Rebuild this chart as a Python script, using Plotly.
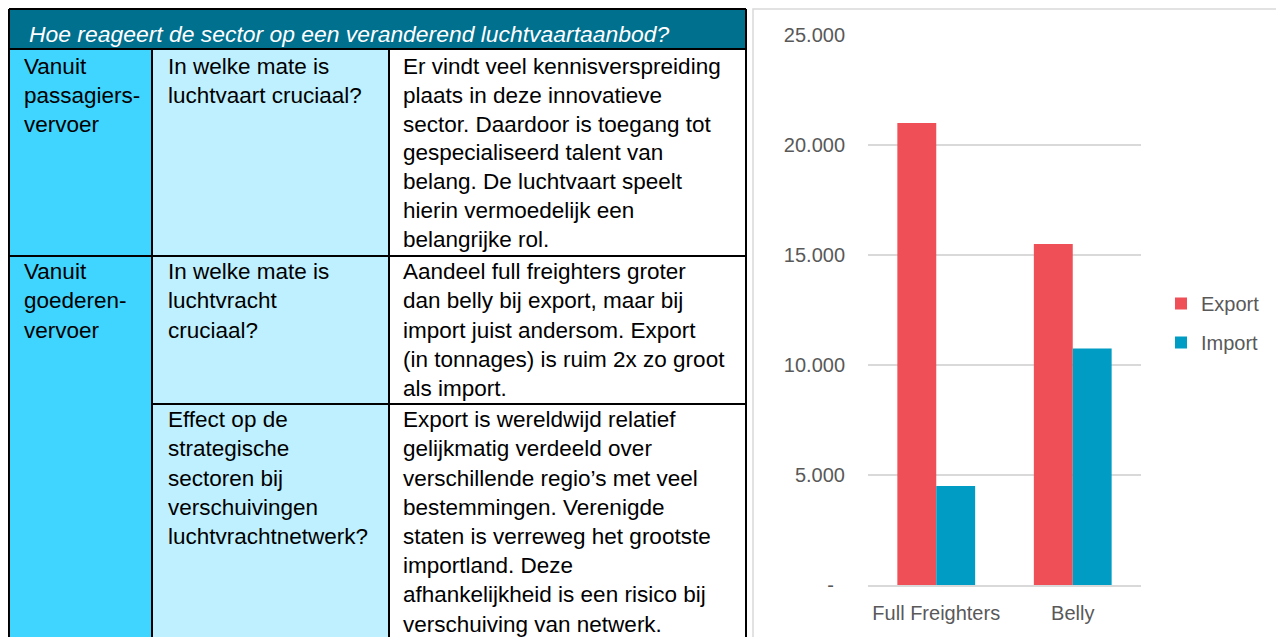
import plotly.graph_objects as go

# ---------------- data ----------------
categories = ["Full Freighters", "Belly"]
export_values = [21000, 15500]
import_values = [4500, 10750]
series_names = ["Export", "Import"]
ytick_vals = [0, 5000, 10000, 15000, 20000, 25000]
ytick_text = ["-\u00a0\u00a0", "5.000", "10.000", "15.000", "20.000", "25.000"]

header_text = "Hoe reageert de sector op een veranderend luchtvaartaanbod?"
row1_col1 = ["Vanuit", "passagiers-", "vervoer"]
row1_col2 = ["In welke mate is", "luchtvaart cruciaal?"]
row1_col3 = ["Er vindt veel kennisverspreiding", "plaats in deze innovatieve",
             "sector. Daardoor is toegang tot", "gespecialiseerd talent van",
             "belang. De luchtvaart speelt", "hierin vermoedelijk een",
             "belangrijke rol."]
row2_col1 = ["Vanuit", "goederen-", "vervoer"]
row2_col2 = ["In welke mate is", "luchtvracht", "cruciaal?"]
row2_col3 = ["Aandeel full freighters groter", "dan belly bij export, maar bij",
             "import juist andersom. Export", "(in tonnages) is ruim 2x zo groot",
             "als import."]
row3_col2 = ["Effect op de", "strategische", "sectoren bij", "verschuivingen",
             "luchtvrachtnetwerk?"]
row3_col3 = ["Export is wereldwijd relatief", "gelijkmatig verdeeld over",
             "verschillende regio\u2019s met veel", "bestemmingen. Verenigde",
             "staten is verreweg het grootste", "importland. Deze",
             "afhankelijkheid is een risico bij", "verschuiving van netwerk."]

# ---------------- layout helpers (page pixel -> paper) ----------------
OFF = 8            # page body margin
W, H = 1276, 629
def X(px):
    return (px - OFF) / W
def Y(py):
    return 1 - (py - OFF) / H

HEADER_C = "#00708F"
COL1_C = "#3FD5FF"
COL2_C = "#BFF0FF"
EXPORT_C = "#EF4F57"
IMPORT_C = "#009CC4"
GRID_C = "#D9D9D9"
TXT_C = "#595959"
FONT = "Liberation Sans, Arial, sans-serif"
TFS = 22.5

fig = go.Figure()
fig.add_trace(go.Bar(name=series_names[0], x=categories, y=export_values,
                     marker=dict(color=EXPORT_C, line=dict(width=0)),
                     legendgroup="a"))
fig.add_trace(go.Bar(name=series_names[1], x=categories, y=import_values,
                     marker=dict(color=IMPORT_C, line=dict(width=0)),
                     legendgroup="b"))

shapes = []
def rect(x0, y0, x1, y1, fill, line=None, lw=0):
    shapes.append(dict(type="rect", xref="paper", yref="paper",
                       x0=X(x0), x1=X(x1), y0=Y(y0), y1=Y(y1),
                       fillcolor=fill, line=dict(width=lw, color=line or fill),
                       layer="below"))
def line(x0, y0, x1, y1, color="black", lw=2):
    shapes.append(dict(type="line", xref="paper", yref="paper",
                       x0=X(x0), x1=X(x1), y0=Y(y0), y1=Y(y1),
                       line=dict(width=lw, color=color), layer="above"))

TL, TR, TT, HB = 9, 746, 9, 49
C1, C2 = 152, 389
R1, R2 = 256, 404
BOT = 645
rect(TL, TT, TR, HB, HEADER_C)
rect(TL, HB, C1, BOT, COL1_C)
rect(C1, HB, C2, BOT, COL2_C)
rect(C2, HB, TR, BOT, "white")
# borders
line(TL, TT, TR, TT)
line(TL, TT, TL, BOT)
line(TR, TT, TR, BOT)
line(TL, HB, TR, HB)
line(TL, R1, TR, R1)
line(C1, R2, TR, R2)
line(C1, HB, C1, BOT)
line(C2, HB, C2, BOT)
# chart frame
shapes.append(dict(type="rect", xref="paper", yref="paper",
                   x0=X(753), x1=X(1279), y0=Y(9), y1=Y(645),
                   line=dict(width=1.5, color=GRID_C), fillcolor="rgba(0,0,0,0)",
                   layer="below"))

annotations = []
def lines_at(lines, x, first_baseline, step=29.2, color="black", italic=False, size=TFS):
    off = 0.3465 * size
    for i, t in enumerate(lines):
        b = first_baseline + i * step
        annotations.append(dict(xref="paper", yref="paper", x=X(x), y=Y(b - off),
                                text=("<i>%s</i>" % t) if italic else t,
                                showarrow=False, xanchor="left", yanchor="middle",
                                font=dict(family=FONT, size=size, color=color)))

lines_at([header_text], 27, 42, color="white", italic=True, size=22.9)
lines_at(row1_col1, 22, 74)
lines_at(row1_col2, 166, 74)
lines_at(row1_col3, 401, 74, step=28.9)
lines_at(row2_col1, 22, 279.5)
lines_at(row2_col2, 166, 279.5)
lines_at(row2_col3, 401, 279.5)
lines_at(row3_col2, 166, 427.5)
lines_at(row3_col3, 401, 427.5)

fig.update_layout(
    width=W, height=H,
    margin=dict(l=0, r=0, t=0, b=0),
    paper_bgcolor="white", plot_bgcolor="white",
    barmode="group", bargap=0.43, bargroupgap=0,
    shapes=shapes, annotations=annotations,
    font=dict(family=FONT, size=20, color=TXT_C),
    xaxis=dict(domain=[X(868), X(1141)], showgrid=False, showline=True,
               linecolor=GRID_C, linewidth=1.5, ticks="", automargin=False,
               tickfont=dict(size=20, color=TXT_C), ticklabelstandoff=9),
    yaxis=dict(domain=[Y(585), Y(35)], range=[0, 25000], tickvals=ytick_vals,
               ticktext=ytick_text, showgrid=True, gridcolor=GRID_C, gridwidth=1.5,
               zeroline=False, showline=False, ticks="", automargin=False,
               tickfont=dict(size=20, color=TXT_C), ticklabelstandoff=22),
    legend=dict(x=X(1161), y=Y(323), xanchor="left", yanchor="middle",
                font=dict(size=20, color=TXT_C), itemwidth=30,
                tracegroupgap=10, bgcolor="rgba(0,0,0,0)"),
    showlegend=True,
)

fig.write_html("out.html")
